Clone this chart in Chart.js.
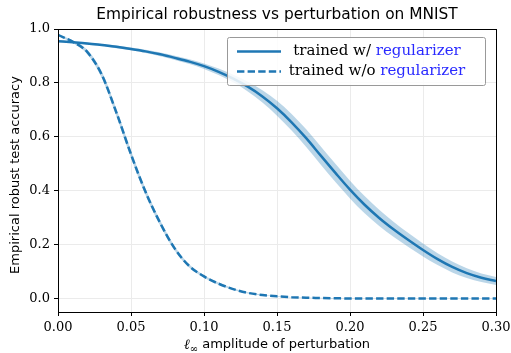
<!DOCTYPE html>
<html>
<head>
<meta charset="utf-8">
<script src="https://cdn.jsdelivr.net/npm/chart.js@4.4.1/dist/chart.umd.min.js"></script>
<style>
  html, body { margin: 0; padding: 0; background: #fff; }
  #wrap { width: 511px; height: 353px; }
</style>
</head>
<body>
<div id="wrap"><canvas id="chart"></canvas></div>
<script>
// perturbation amplitudes (l_inf)
const eps = [0.00, 0.01, 0.02, 0.03, 0.04, 0.05, 0.06, 0.07, 0.08, 0.09,
             0.10, 0.11, 0.12, 0.13, 0.14, 0.15, 0.16, 0.17, 0.18, 0.19,
             0.20, 0.21, 0.22, 0.23, 0.24, 0.25, 0.26, 0.27, 0.28, 0.29, 0.30]

// trained with regularizer: mean and band
const withReg = [0.955, 0.951, 0.946, 0.941, 0.934, 0.926, 0.917, 0.906, 0.893, 0.879,
                 0.862, 0.841, 0.816, 0.786, 0.750, 0.706, 0.654, 0.595, 0.530, 0.466,
                 0.404, 0.348, 0.299, 0.256, 0.217, 0.180, 0.146, 0.117, 0.094, 0.077, 0.065]
const withRegLow = [0.952, 0.948, 0.942, 0.937, 0.929, 0.921, 0.911, 0.899, 0.885, 0.870,
                    0.852, 0.829, 0.802, 0.768, 0.727, 0.678, 0.623, 0.562, 0.496, 0.432,
                    0.371, 0.316, 0.269, 0.228, 0.191, 0.156, 0.124, 0.097, 0.076, 0.061, 0.050]
const withRegHigh = [0.958, 0.954, 0.950, 0.945, 0.939, 0.931, 0.923, 0.913, 0.901, 0.888,
                     0.872, 0.853, 0.830, 0.804, 0.773, 0.734, 0.685, 0.628, 0.564, 0.500,
                     0.437, 0.380, 0.329, 0.284, 0.243, 0.204, 0.168, 0.137, 0.112, 0.093, 0.080]

// trained without regularizer: mean and band
const noReg = [0.978, 0.953, 0.915, 0.830, 0.690, 0.535, 0.395, 0.280, 0.185, 0.120,
               0.082, 0.055, 0.035, 0.021, 0.013, 0.008, 0.005, 0.003, 0.002, 0.001,
               0.000, 0.000, 0.000, 0.000, 0.000, 0.000, 0.000, 0.000, 0.000, 0.000, 0.000]
const noRegLow = [0.975, 0.948, 0.907, 0.818, 0.676, 0.521, 0.383, 0.270, 0.177, 0.114,
                  0.077, 0.051, 0.032, 0.019, 0.011, 0.007, 0.004, 0.002, 0.001, 0.000,
                  0.000, 0.000, 0.000, 0.000, 0.000, 0.000, 0.000, 0.000, 0.000, 0.000, 0.000]
const noRegHigh = [0.981, 0.958, 0.923, 0.842, 0.704, 0.549, 0.407, 0.290, 0.193, 0.126,
                   0.087, 0.059, 0.038, 0.023, 0.015, 0.009, 0.006, 0.004, 0.003, 0.002,
                   0.001, 0.001, 0.001, 0.001, 0.001, 0.001, 0.001, 0.001, 0.001, 0.001, 0.001]

const xTicks = [0.00, 0.05, 0.10, 0.15, 0.20, 0.25, 0.30]
const yTicks = [0.0, 0.2, 0.4, 0.6, 0.8, 1.0]

const legendRows = [
  { pre: 'trained w/ ', post: 'regularizer', dash: [] },
  { pre: 'trained w/o ', post: 'regularizer', dash: [7.4, 3.2] }
]

const blue = '#1f77b4'
const band = 'rgba(31,119,180,0.3)'
const serif = '"DejaVu Serif", "Liberation Serif", serif'
const sans = '"DejaVu Sans", sans-serif'

function pts(ys) {
  return eps.map((x, i) => ({ x: x, y: ys[i] }))
}

/* ===============================
   TEXTOS Y MARCO
================================ */
const decor = {
  id: 'decor',
  afterDraw(chart) {
    const c = chart.ctx
    const a = chart.chartArea
    c.save()
    // marco
    c.strokeStyle = '#000'
    c.lineWidth = 1
    c.strokeRect(a.left + 0.5, a.top + 0.5, a.right - a.left, a.bottom - a.top)

    // titulo
    c.fillStyle = '#000'
    c.font = '15.4px ' + sans
    c.textAlign = 'center'
    c.textBaseline = 'middle'
    c.fillText('Empirical robustness vs perturbation on MNIST', 277, 15)

    // etiqueta eje y
    c.save()
    c.translate(16, 175)
    c.rotate(-Math.PI / 2)
    c.font = '13px ' + sans
    c.fillText('Empirical robust test accuracy', 0, 0)
    c.restore()

    // etiqueta eje x con subindice
    const yx = 345
    c.textAlign = 'left'
    const rest = ' amplitude of perturbation'
    c.font = '13px ' + sans
    const wRest = c.measureText(rest).width
    c.font = 'italic 14px "Liberation Serif", serif'
    const wL = c.measureText('ℓ').width
    c.font = '10px ' + serif
    const wInf = c.measureText('∞').width
    const x0 = 277 - (wL + wInf + wRest) / 2
    c.font = 'italic 14px "Liberation Serif", serif'
    c.fillText('ℓ', x0, yx)
    c.font = '10px ' + serif
    c.fillText('∞', x0 + wL, yx + 4)
    c.font = '13px ' + sans
    c.fillText(rest, x0 + wL + wInf, yx)

    // leyenda
    const bx = 227.5, by = 37.5, bw = 258, bh = 48
    c.fillStyle = 'rgba(255,255,255,0.85)'
    c.strokeStyle = '#999'
    c.lineWidth = 1
    c.beginPath()
    c.roundRect(bx, by, bw, bh, 2)
    c.fill()
    c.stroke()
    c.font = '15px ' + serif
    legendRows.forEach((r, i) => {
      const ry = 51.5 + i * 20
      c.strokeStyle = blue
      c.lineWidth = 2.5
      c.setLineDash(r.dash)
      c.beginPath()
      c.moveTo(237, ry)
      c.lineTo(281, ry)
      c.stroke()
      c.setLineDash([])
      const w1 = c.measureText(r.pre).width
      const w2 = c.measureText(r.post).width
      const tx = 377 - (w1 + w2) / 2
      c.fillStyle = '#000'
      c.fillText(r.pre, tx, ry)
      c.fillStyle = '#2a2aff'
      c.fillText(r.post, tx + w1, ry)
    })
    c.restore()
  }
}

const bandStyle = { borderWidth: 0, pointRadius: 0, showLine: true }

new Chart(document.getElementById('chart'), {
  type: 'scatter',
  data: {
    datasets: [
      { data: pts(withRegLow), ...bandStyle, fill: false },
      { data: pts(withRegHigh), ...bandStyle, fill: '-1', backgroundColor: band },
      { data: pts(noRegLow), ...bandStyle, fill: false },
      { data: pts(noRegHigh), ...bandStyle, fill: '-1', backgroundColor: band },
      { data: pts(withReg), showLine: true, pointRadius: 0, borderColor: blue, borderWidth: 2.5 },
      { data: pts(noReg), showLine: true, pointRadius: 0, borderColor: blue, borderWidth: 2.5,
        borderDash: [7.4, 3.2] }
    ]
  },
  options: {
    responsive: true,
    maintainAspectRatio: false,
    animation: false,
    layout: { padding: { top: 29, right: 15, left: 0, bottom: 0 } },
    elements: { line: { cubicInterpolationMode: 'monotone', borderCapStyle: 'butt' } },
    plugins: { legend: { display: false }, tooltip: { enabled: false } },
    scales: {
      x: {
        type: 'linear', min: 0, max: 0.30,
        afterBuildTicks: s => { s.ticks = xTicks.map(v => ({ value: v })) },
        afterFit: s => { s.height = 41; s.paddingLeft = 0; s.paddingRight = 0 },
        grid: { color: '#ebebeb', tickColor: '#000', tickLength: 4 },
        border: { color: '#000' },
        ticks: { color: '#000', padding: 4, maxRotation: 0, font: { family: serif, size: 13 },
                 callback: v => v.toFixed(2) }
      },
      y: {
        type: 'linear', min: -0.05, max: 1.0,
        afterBuildTicks: s => { s.ticks = yTicks.map(v => ({ value: v })) },
        afterFit: s => { s.width = 58; s.paddingTop = 0; s.paddingBottom = 0 },
        grid: { color: '#ebebeb', tickColor: '#000', tickLength: 4 },
        border: { color: '#000' },
        ticks: { color: '#000', padding: 4, font: { family: serif, size: 13 },
                 callback: v => v.toFixed(1) }
      }
    }
  },
  plugins: [decor]
})
</script>
</body>
</html>
